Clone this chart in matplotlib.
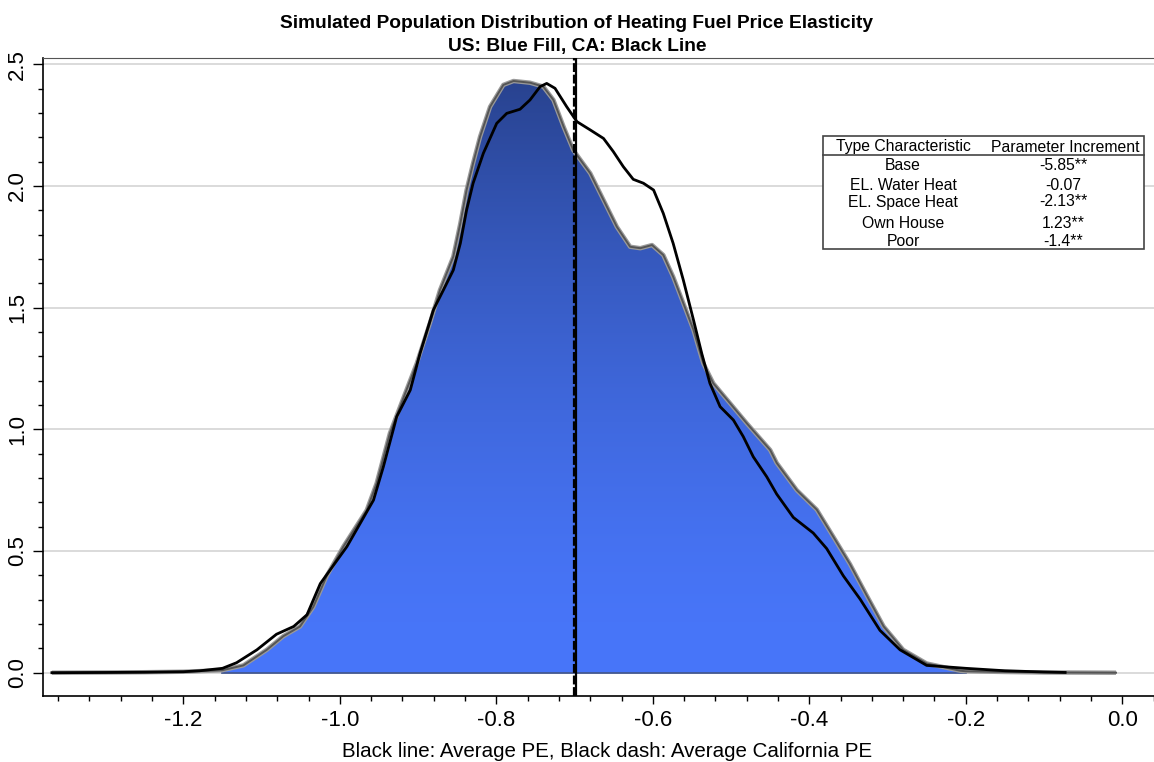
import numpy as np
import matplotlib
matplotlib.use("Agg")
import matplotlib.pyplot as plt
from matplotlib.patches import Rectangle
from matplotlib.lines import Line2D

plt.rcParams['font.family'] = ['Liberation Sans', 'DejaVu Sans']

# US density (blue fill)
us_x = [-1.368, -1.30, -1.25, -1.20, -1.1506, -1.1233, -1.0934, -1.0722, -1.0509, -1.034,
        -1.0167, -0.9955, -0.9656, -0.953, -0.936, -0.923, -0.9017, -0.885, -0.872,
        -0.855, -0.846, -0.838, -0.8297, -0.8208, -0.808, -0.791, -0.778, -0.757,
        -0.740, -0.727, -0.714, -0.7016, -0.680, -0.663, -0.646, -0.629, -0.616,
        -0.601, -0.5866, -0.574, -0.561, -0.548, -0.5355, -0.5227, -0.5013, -0.480,
        -0.450, -0.4417, -0.416, -0.3905, -0.369, -0.348, -0.3267, -0.305, -0.280,
        -0.250, -0.207, -0.200, -0.15, -0.10, -0.05, -0.008]
us_y = [0.0, 0.001, 0.002, 0.004, 0.01, 0.03, 0.094, 0.15, 0.19, 0.27,
        0.398, 0.518, 0.668, 0.778, 0.984, 1.093, 1.271, 1.435, 1.572,
        1.709, 1.846, 1.983, 2.093, 2.202, 2.325, 2.415, 2.431, 2.424,
        2.408, 2.353, 2.243, 2.147, 2.052, 1.942, 1.832, 1.750, 1.744,
        1.757, 1.716, 1.627, 1.518, 1.408, 1.271, 1.189, 1.107, 1.025,
        0.915, 0.862, 0.75, 0.67, 0.557, 0.446, 0.318, 0.19, 0.094,
        0.038, 0.008, 0.006, 0.003, 0.001, 0.0005, 0.0]

# CA density (black line)
ca_x = [-1.368, -1.30, -1.25, -1.20, -1.179, -1.15, -1.132, -1.106, -1.081, -1.059, -1.042,
        -1.025, -0.991, -0.957, -0.9444, -0.9273, -0.910, -0.8975, -0.8805, -0.8677,
        -0.855, -0.846, -0.838, -0.8297, -0.8166, -0.7995, -0.7867, -0.7697, -0.757,
        -0.744, -0.7356, -0.725, -0.710, -0.697, -0.680, -0.663, -0.6505, -0.6377,
        -0.625, -0.612, -0.599, -0.5866, -0.574, -0.561, -0.548, -0.5375, -0.527,
        -0.514, -0.497, -0.4844, -0.4716, -0.4544, -0.4417, -0.4204, -0.395, -0.3778,
        -0.3565, -0.335, -0.3097, -0.284, -0.250, -0.200, -0.15, -0.10, -0.073]
ca_y = [0.0, 0.001, 0.002, 0.004, 0.008, 0.018, 0.041, 0.094, 0.158, 0.19, 0.238,
        0.366, 0.518, 0.709, 0.846, 1.052, 1.161, 1.312, 1.49, 1.572,
        1.654, 1.764, 1.901, 2.011, 2.134, 2.257, 2.298, 2.315, 2.353,
        2.408, 2.421, 2.401, 2.325, 2.264, 2.230, 2.195, 2.141, 2.079,
        2.027, 2.011, 1.983, 1.887, 1.764, 1.613, 1.449, 1.312, 1.189,
        1.093, 1.038, 0.970, 0.887, 0.805, 0.734, 0.638, 0.574, 0.51,
        0.398, 0.302, 0.174, 0.094, 0.03, 0.018, 0.008, 0.003, 0.001]

avg_pe = -0.698
avg_ca_pe = -0.701
fill_lo, fill_hi = -1.1506, -0.200

table_rows = ["Base", "EL. Water Heat", "EL. Space Heat", "Own House", "Poor"]
table_vals = ["-5.85**", "-0.07", "-2.13**", "1.23**", "-1.4**"]

W, H = 1154, 762
fig = plt.figure(figsize=(W / 100, H / 100), dpi=100)
ax = fig.add_axes([43.3 / W, 66 / H, (1170 - 43.3) / W, (696 - 57.7) / H])
ax.set_xlim(-1.379, 0.061)
ax.set_ylim(-0.0957, 2.5267)

for g in [0, 0.5, 1.0, 1.5, 2.0, 2.5]:
    ax.axhline(g, color='#d4d4d4', lw=1.2, zorder=0)

# gradient fill clipped to the US area
us_x = np.array(us_x)
us_y = np.array(us_y)
m = (us_x >= fill_lo - 1e-9) & (us_x <= fill_hi + 1e-9)
poly = ax.fill_between(us_x[m], 0, us_y[m], color='none', lw=0)
t = np.linspace(0, 1, 256)[:, None]
c_bot = np.array([72, 118, 250]) / 255
c_top = np.array([40, 66, 142]) / 255
grad = c_bot + (c_top - c_bot) * (t ** 1.6)[:, :, None] * np.ones((1, 2, 1))
im = ax.imshow(grad, extent=[fill_lo, fill_hi, 0, 2.45], origin='lower',
               aspect='auto', zorder=1)
im.set_clip_path(poly.get_paths()[0], transform=ax.transData)
ax.plot([fill_lo, fill_hi], [0, 0], color='#3a4f8a', lw=1.2, zorder=2)

ax.plot(us_x, us_y, color='#9a9a9a', lw=3.2, zorder=2, solid_capstyle='butt')
ax.plot(us_x, us_y, color='#555555', lw=1.4, zorder=2)
ax.plot(ca_x, ca_y, color='black', lw=2.0, zorder=3)

ax.axvline(avg_pe, color='black', lw=1.6, zorder=4)
ax.axvline(avg_ca_pe, color='black', lw=1.6, ls=(0, (4, 1.2)), zorder=4)

ax.set_xticks(np.round(np.arange(-1.2, 0.01, 0.2), 1))
ax.set_xticklabels(["-1.2", "-1.0", "-0.8", "-0.6", "-0.4", "-0.2", "0.0"])
ax.set_xticks(np.arange(-1.36, 0.05, 0.04), minor=True)
ax.set_yticks([0, 0.5, 1.0, 1.5, 2.0, 2.5])
ax.set_yticklabels(["0.0", "0.5", "1.0", "1.5", "2.0", "2.5"], rotation=90, va='center')
ax.set_yticks(np.arange(0, 2.55, 0.1), minor=True)
ax.tick_params(axis='both', which='major', labelsize=16, length=6, width=1, pad=4)
ax.tick_params(axis='both', which='minor', length=3.5, width=1)
ax.tick_params(axis='y', which='major', length=7)

ax.spines['right'].set_visible(False)
ax.spines['top'].set_color('#555555')
ax.spines['left'].set_linewidth(1.2)
ax.spines['bottom'].set_linewidth(1.2)

ax.set_xlabel("Black line: Average PE, Black dash: Average California PE", fontsize=14.8, labelpad=8)

fig.text(577 / W, 1 - 23 / H, "Simulated Population Distribution of Heating Fuel Price Elasticity",
         ha='center', va='center', fontsize=13.8, fontweight='bold')
fig.text(577 / W, 1 - 47 / H, "US: Blue Fill, CA: Black Line",
         ha='center', va='center', fontsize=13.8, fontweight='bold')

# parameter table
bx0, bx1, by0, by1 = 822.7, 1144, 136, 249
fig.patches.append(Rectangle((bx0 / W, 1 - by1 / H), (bx1 - bx0) / W, (by1 - by0) / H,
                             transform=fig.transFigure, facecolor='white',
                             edgecolor='#444444', lw=1.2, zorder=5))
fig.lines.append(Line2D([bx0 / W, bx1 / W], [1 - 155 / H, 1 - 155 / H],
                        transform=fig.transFigure, color='#444444', lw=1.2, zorder=6))
fig.text(903 / W, 1 - 146 / H, "Type Characteristic", ha='center', va='center', fontsize=11.3, zorder=7)
fig.text(1065 / W, 1 - 147 / H, "Parameter Increment", ha='center', va='center', fontsize=11.3, zorder=7)
row_y = [166, 185, 202, 223, 241]
for name, val, yy in zip(table_rows, table_vals, row_y):
    fig.text(903 / W, 1 - yy / H, name, ha='center', va='center', fontsize=11.3, zorder=7)
    fig.text(1063 / W, 1 - yy / H, val, ha='center', va='center', fontsize=11.3, zorder=7)

fig.savefig("out.png", dpi=100)
